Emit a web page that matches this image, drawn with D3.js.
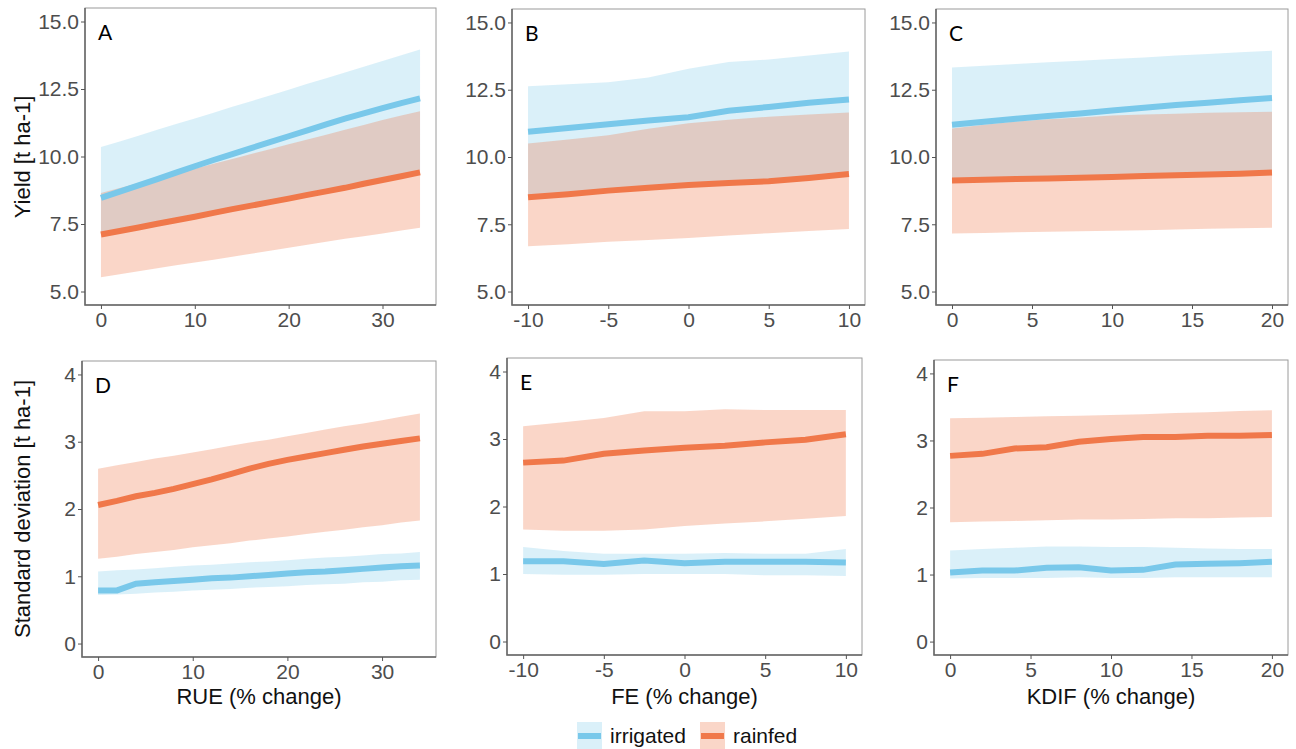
<!DOCTYPE html>
<html>
<head>
<meta charset="utf-8">
<script src="https://cdn.jsdelivr.net/npm/d3@7"></script>
<style>
  body { margin: 0; background: #fff; }
  svg { display: block; font-family: "Liberation Sans", Arial, sans-serif; }
  .tick text { fill: #4d4d4d; font-size: 21px; }
  .tick line { stroke: #555; }
  .axis-title { font-size: 22px; fill: #111; }
  .panel-label { font-family: Lato, sans-serif; font-size: 21px; fill: #000; }
  .legend text { font-size: 21px; fill: #111; }
</style>
</head>
<body>
<div id="vis"></div>
<script>
// x values (% change)
const rueX  = [0, 2, 4, 6, 8, 10, 12, 14, 16, 18, 20, 22, 24, 26, 28, 30, 32, 34];
const feX   = [-10, -7.5, -5, -2.5, 0, 2.5, 5, 7.5, 10];
const kdifX = [0, 2, 4, 6, 8, 10, 12, 14, 16, 18, 20];

// A: yield vs RUE
const yieldRueIrr    = [8.47, 8.70, 8.93, 9.16, 9.40, 9.64, 9.87, 10.09, 10.31, 10.53, 10.75, 10.97, 11.19, 11.40, 11.60, 11.79, 11.98, 12.15];
const yieldRueIrrHi  = [10.35, 10.56, 10.77, 10.99, 11.20, 11.41, 11.62, 11.84, 12.05, 12.26, 12.47, 12.69, 12.90, 13.11, 13.32, 13.54, 13.75, 13.96];
const yieldRueIrrLo  = [7.19, 7.32, 7.45, 7.59, 7.72, 7.85, 7.99, 8.13, 8.26, 8.39, 8.52, 8.66, 8.79, 8.92, 9.07, 9.21, 9.35, 9.49];
const yieldRueRain   = [7.11, 7.24, 7.37, 7.51, 7.64, 7.77, 7.91, 8.05, 8.18, 8.31, 8.44, 8.58, 8.71, 8.84, 8.99, 9.13, 9.27, 9.41];
const yieldRueRainHi = [8.65, 8.83, 9.01, 9.19, 9.37, 9.55, 9.73, 9.91, 10.09, 10.27, 10.45, 10.63, 10.81, 10.99, 11.17, 11.35, 11.52, 11.68];
const yieldRueRainLo = [5.53, 5.64, 5.75, 5.86, 5.97, 6.07, 6.18, 6.29, 6.40, 6.51, 6.62, 6.73, 6.84, 6.95, 7.05, 7.15, 7.26, 7.36];

// B: yield vs FE
const yieldFeIrr    = [10.94, 11.08, 11.22, 11.36, 11.48, 11.72, 11.86, 12.02, 12.14];
const yieldFeIrrHi  = [12.63, 12.70, 12.78, 12.95, 13.28, 13.53, 13.62, 13.77, 13.92];
const yieldFeIrrLo  = [8.56, 8.68, 8.81, 8.92, 9.02, 9.09, 9.16, 9.28, 9.43];
const yieldFeRain   = [8.50, 8.62, 8.75, 8.86, 8.96, 9.03, 9.10, 9.22, 9.37];
const yieldFeRainHi = [10.50, 10.65, 10.81, 11.05, 11.25, 11.38, 11.50, 11.58, 11.65];
const yieldFeRainLo = [6.68, 6.76, 6.85, 6.92, 6.99, 7.08, 7.17, 7.25, 7.32];

// C: yield vs KDIF
const yieldKdifIrr    = [11.20, 11.31, 11.42, 11.52, 11.62, 11.73, 11.83, 11.93, 12.02, 12.11, 12.19];
const yieldKdifIrrHi  = [13.33, 13.39, 13.46, 13.52, 13.58, 13.64, 13.70, 13.77, 13.83, 13.89, 13.95];
const yieldKdifIrrLo  = [9.19, 9.21, 9.24, 9.26, 9.29, 9.32, 9.35, 9.38, 9.41, 9.44, 9.48];
const yieldKdifRain   = [9.13, 9.15, 9.18, 9.20, 9.23, 9.26, 9.29, 9.32, 9.35, 9.38, 9.42];
const yieldKdifRainHi = [11.06, 11.20, 11.32, 11.40, 11.47, 11.54, 11.58, 11.61, 11.64, 11.66, 11.68];
const yieldKdifRainLo = [7.16, 7.18, 7.20, 7.22, 7.24, 7.26, 7.28, 7.31, 7.33, 7.35, 7.37];

// D: standard deviation vs RUE
const sdRueIrr    = [0.79, 0.79, 0.89, 0.91, 0.93, 0.95, 0.97, 0.98, 1.00, 1.02, 1.04, 1.06, 1.07, 1.09, 1.11, 1.13, 1.15, 1.16];
const sdRueIrrHi  = [1.07, 1.09, 1.10, 1.12, 1.14, 1.16, 1.17, 1.19, 1.21, 1.22, 1.24, 1.26, 1.28, 1.29, 1.31, 1.33, 1.34, 1.36];
const sdRueIrrLo  = [0.72, 0.73, 0.74, 0.76, 0.77, 0.79, 0.80, 0.81, 0.83, 0.84, 0.85, 0.87, 0.88, 0.89, 0.91, 0.92, 0.94, 0.95];
const sdRueRain   = [2.06, 2.12, 2.19, 2.24, 2.30, 2.37, 2.44, 2.52, 2.60, 2.67, 2.73, 2.78, 2.83, 2.88, 2.93, 2.97, 3.01, 3.05];
const sdRueRainHi = [2.60, 2.65, 2.70, 2.75, 2.79, 2.84, 2.89, 2.94, 2.99, 3.03, 3.08, 3.13, 3.18, 3.23, 3.27, 3.32, 3.37, 3.42];
const sdRueRainLo = [1.26, 1.29, 1.33, 1.36, 1.39, 1.43, 1.46, 1.49, 1.53, 1.56, 1.59, 1.63, 1.66, 1.69, 1.73, 1.76, 1.80, 1.83];

// E: standard deviation vs FE
const sdFeIrr    = [1.19, 1.19, 1.15, 1.20, 1.16, 1.18, 1.18, 1.18, 1.17];
const sdFeIrrHi  = [1.40, 1.34, 1.30, 1.30, 1.30, 1.31, 1.30, 1.30, 1.37];
const sdFeIrrLo  = [1.00, 0.99, 0.99, 1.00, 1.00, 1.00, 0.98, 0.98, 0.97];
const sdFeRain   = [2.65, 2.68, 2.78, 2.83, 2.87, 2.90, 2.95, 2.99, 3.07];
const sdFeRainHi = [3.19, 3.25, 3.31, 3.41, 3.41, 3.44, 3.43, 3.43, 3.43];
const sdFeRainLo = [1.66, 1.64, 1.64, 1.66, 1.71, 1.75, 1.78, 1.82, 1.86];

// F: standard deviation vs KDIF
const sdKdifIrr    = [1.03, 1.06, 1.06, 1.10, 1.11, 1.06, 1.07, 1.15, 1.16, 1.17, 1.19];
const sdKdifIrrHi  = [1.36, 1.38, 1.40, 1.42, 1.42, 1.41, 1.41, 1.40, 1.39, 1.38, 1.38];
const sdKdifIrrLo  = [0.94, 0.95, 0.95, 0.95, 0.96, 0.95, 0.95, 0.96, 0.96, 0.96, 0.96];
const sdKdifRain   = [2.77, 2.80, 2.88, 2.90, 2.98, 3.02, 3.05, 3.05, 3.07, 3.07, 3.08];
const sdKdifRainHi = [3.33, 3.34, 3.35, 3.36, 3.37, 3.38, 3.39, 3.41, 3.42, 3.44, 3.45];
const sdKdifRainLo = [1.78, 1.79, 1.80, 1.81, 1.82, 1.82, 1.83, 1.84, 1.84, 1.85, 1.86];

// tick labels
const rueTicks   = [0, 10, 20, 30];
const feTicks    = [-10, -5, 0, 5, 10];
const kdifTicks  = [0, 5, 10, 15, 20];
const yieldTicks = [5, 7.5, 10, 12.5, 15];
const sdTicks    = [0, 1, 2, 3, 4];

const seriesNames = ['irrigated', 'rainfed'];
const colors = {irrigated: '#79c8ea', rainfed: '#f0784a'};

const svg = d3.select('#vis')
    .append('svg')
    .attr('width', 1296)
    .attr('height', 749);

const panels = [
  {label: 'A', box: [85, 436, 8, 305], x: rueX, xTicks: rueTicks, yLim: [5, 15], yTicks: yieldTicks, yFmt: d3.format('.1f'),
   irr: [yieldRueIrr, yieldRueIrrLo, yieldRueIrrHi], rain: [yieldRueRain, yieldRueRainLo, yieldRueRainHi]},
  {label: 'B', box: [512, 865, 9, 305], x: feX, xTicks: feTicks, yLim: [5, 15], yTicks: yieldTicks, yFmt: d3.format('.1f'),
   irr: [yieldFeIrr, yieldFeIrrLo, yieldFeIrrHi], rain: [yieldFeRain, yieldFeRainLo, yieldFeRainHi]},
  {label: 'C', box: [936, 1288, 9, 305], x: kdifX, xTicks: kdifTicks, yLim: [5, 15], yTicks: yieldTicks, yFmt: d3.format('.1f'),
   irr: [yieldKdifIrr, yieldKdifIrrLo, yieldKdifIrrHi], rain: [yieldKdifRain, yieldKdifRainLo, yieldKdifRainHi]},
  {label: 'D', box: [82, 436, 361, 657], x: rueX, xTicks: rueTicks, yLim: [0, 4], yTicks: sdTicks, yFmt: d => String(d),
   irr: [sdRueIrr, sdRueIrrLo, sdRueIrrHi], rain: [sdRueRain, sdRueRainLo, sdRueRainHi], xTitle: 'RUE (% change)'},
  {label: 'E', box: [507, 862, 358, 655], x: feX, xTicks: feTicks, yLim: [0, 4], yTicks: sdTicks, yFmt: d => String(d),
   irr: [sdFeIrr, sdFeIrrLo, sdFeIrrHi], rain: [sdFeRain, sdFeRainLo, sdFeRainHi], xTitle: 'FE (% change)'},
  {label: 'F', box: [934, 1288, 360, 655], x: kdifX, xTicks: kdifTicks, yLim: [0, 4], yTicks: sdTicks, yFmt: d => String(d),
   irr: [sdKdifIrr, sdKdifIrrLo, sdKdifIrrHi], rain: [sdKdifRain, sdKdifRainLo, sdKdifRainHi], xTitle: 'KDIF (% change)'}
];

function expand(lim) {
  const pad = (lim[1] - lim[0]) * 0.05;
  return [lim[0] - pad, lim[1] + pad];
}

panels.forEach(p => {
  const [left, right, top, bottom] = p.box;
  const xScale = d3.scaleLinear().domain(expand(d3.extent(p.x))).range([left, right]);
  const yScale = d3.scaleLinear().domain(expand(p.yLim)).range([bottom, top]);

  const g = svg.append('g');

  const groups = [
    {name: 'irrigated', vals: p.irr},
    {name: 'rainfed', vals: p.rain}
  ];

  const area = d3.area()
      .x(d => xScale(d.x))
      .y0(d => yScale(d.lo))
      .y1(d => yScale(d.hi));
  const line = d3.line()
      .x(d => xScale(d.x))
      .y(d => yScale(d.mean));

  const rows = groups.map(s => ({
    name: s.name,
    pts: p.x.map((x, i) => ({x: x, mean: s.vals[0][i], lo: s.vals[1][i], hi: s.vals[2][i]}))
  }));

  // ribbons first, then the lines
  g.selectAll('.ribbon')
      .data(rows)
      .join('path')
      .attr('class', 'ribbon')
      .attr('d', d => area(d.pts))
      .attr('fill', d => colors[d.name])
      .attr('fill-opacity', d => d.name === 'irrigated' ? 0.28 : 0.3);

  g.selectAll('.line')
      .data(rows)
      .join('path')
      .attr('class', 'line')
      .attr('d', d => line(d.pts))
      .attr('fill', 'none')
      .attr('stroke', d => colors[d.name])
      .attr('stroke-width', 6);

  // panel border
  g.append('rect')
      .attr('x', left)
      .attr('y', top)
      .attr('width', right - left)
      .attr('height', bottom - top)
      .attr('fill', 'none')
      .attr('stroke', '#9a9a9a')
      .attr('stroke-width', 1);
  g.append('path')
      .attr('d', `M${left},${top}V${bottom}H${right}`)
      .attr('fill', 'none')
      .attr('stroke', '#666')
      .attr('stroke-width', 1.5);

  const xAxis = d3.axisBottom(xScale)
      .tickValues(p.xTicks)
      .tickFormat(d => String(d))
      .tickSize(4)
      .tickPadding(3);
  g.append('g')
      .attr('transform', `translate(0,${bottom})`)
      .call(xAxis)
      .call(a => a.select('.domain').remove())
      .selectAll('text').attr('font-family', null).attr('font-size', null);

  const yAxis = d3.axisLeft(yScale)
      .tickValues(p.yTicks)
      .tickFormat(p.yFmt)
      .tickSize(4)
      .tickPadding(2);
  g.append('g')
      .attr('transform', `translate(${left},0)`)
      .call(yAxis)
      .call(a => a.select('.domain').remove())
      .selectAll('text').attr('font-family', null).attr('font-size', null);
  g.selectAll('.tick line').attr('stroke', '#555');

  g.append('text')
      .attr('class', 'panel-label')
      .attr('x', left + 13)
      .attr('y', top + 32)
      .text(p.label);

  if (p.xTitle) {
    g.append('text')
        .attr('class', 'axis-title')
        .attr('x', (left + right) / 2)
        .attr('y', 704)
        .style('text-anchor', 'middle')
        .text(p.xTitle);
  }
});

svg.append('text')
    .attr('class', 'axis-title')
    .attr('transform', 'rotate(-90)')
    .attr('x', -157)
    .attr('y', 30)
    .style('text-anchor', 'middle')
    .text('Yield [t ha-1]');

svg.append('text')
    .attr('class', 'axis-title')
    .attr('transform', 'rotate(-90)')
    .attr('x', -509)
    .attr('y', 30)
    .style('text-anchor', 'middle')
    .text('Standard deviation [t ha-1]');

// legend
const legendX = [577, 700];
const legend = svg.append('g').attr('class', 'legend');
seriesNames.forEach((name, i) => {
  const lg = legend.append('g').attr('transform', `translate(${legendX[i]},722)`);
  lg.append('rect')
      .attr('width', 25)
      .attr('height', 28)
      .attr('fill', colors[name])
      .attr('fill-opacity', name === 'irrigated' ? 0.28 : 0.3);
  lg.append('line')
      .attr('x1', 1).attr('x2', 24)
      .attr('y1', 14).attr('y2', 14)
      .attr('stroke', colors[name])
      .attr('stroke-width', 6);
  lg.append('text')
      .attr('x', 33)
      .attr('y', 21)
      .text(name);
});
</script>
</body>
</html>
